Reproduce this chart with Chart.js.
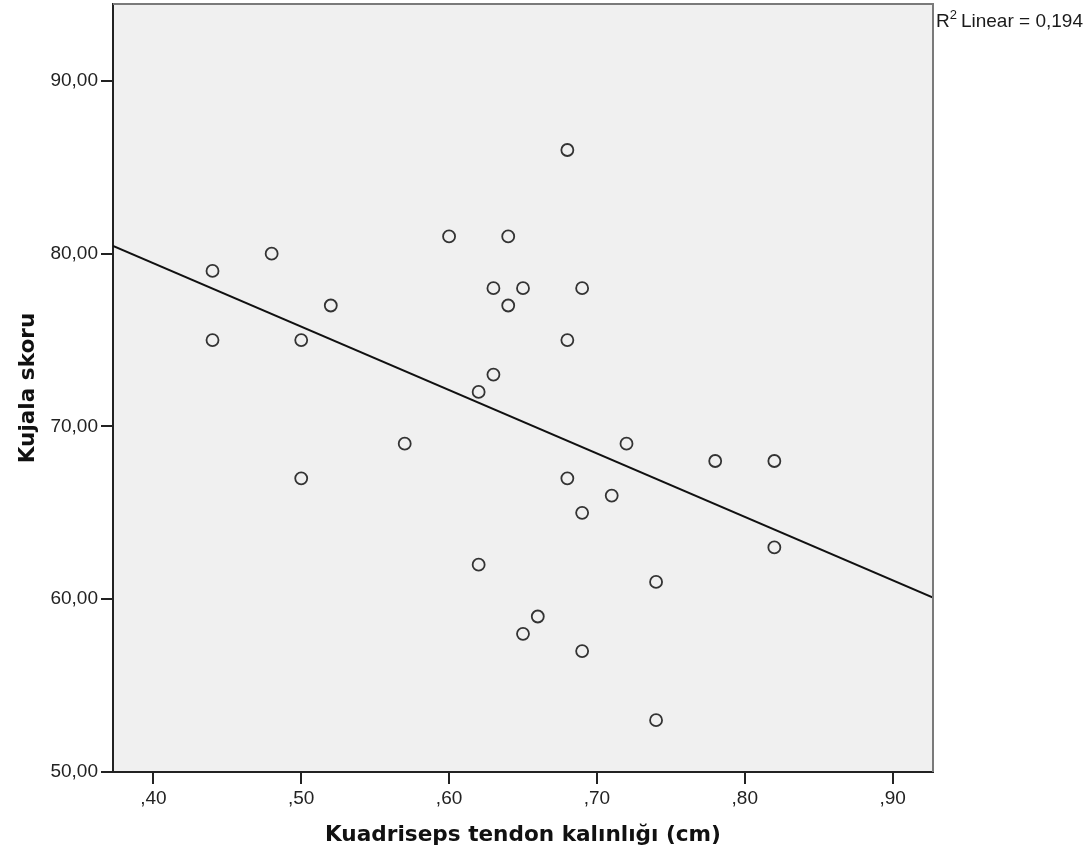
<!DOCTYPE html>
<html>
<head>
<meta charset="utf-8">
<script src="https://cdn.jsdelivr.net/npm/chart.js@4/dist/chart.umd.min.js"></script>
<style>
  html, body { margin: 0; padding: 0; background: #ffffff; }
  #wrap { width: 1091px; height: 861px; }
</style>
</head>
<body>
<div id="wrap"><canvas id="c" width="1091" height="861"></canvas></div>
<script>
// Data
const tendonThickness = [0.44, 0.44, 0.48, 0.50, 0.50, 0.52, 0.57, 0.60, 0.62, 0.62,
                         0.63, 0.63, 0.64, 0.64, 0.65, 0.65, 0.66, 0.68, 0.68, 0.68,
                         0.69, 0.69, 0.69, 0.71, 0.72, 0.74, 0.74, 0.78, 0.82, 0.82];
const kujalaScore = [79, 75, 80, 75, 67, 77, 69, 81, 72, 62,
                     78, 73, 81, 77, 78, 58, 59, 86, 75, 67,
                     78, 65, 57, 66, 69, 61, 53, 68, 68, 63];
const fitLineX = [0.3727, 0.9273];
const fitLineY = [80.45, 60.10];
const xTickValues = [0.40, 0.50, 0.60, 0.70, 0.80, 0.90];
const yTickValues = [50, 60, 70, 80, 90];
const xTitle = 'Kuadriseps tendon kalınlığı (cm)';
const yTitle = 'Kujala skoru';
const r2Label = '0,194';

const points = tendonThickness.map((x, i) => ({ x: x, y: kujalaScore[i] }));
const fitPoints = fitLineX.map((x, i) => ({ x: x, y: fitLineY[i] }));

const fmtX = v => ',' + Math.round(v * 100).toString().padStart(2, '0');
const fmtY = v => v.toFixed(2).replace('.', ',');

const framePlugin = {
  id: 'frame',
  beforeDraw(chart) {
    const { ctx, chartArea: a } = chart;
    ctx.save();
    ctx.fillStyle = '#f0f0f0';
    ctx.fillRect(a.left, a.top, a.right - a.left, a.bottom - a.top);
    ctx.restore();
  },
  afterDraw(chart) {
    const { ctx, chartArea: a } = chart;
    ctx.save();
    ctx.strokeStyle = '#7a7a7a';
    ctx.lineWidth = 2;
    ctx.beginPath();
    ctx.moveTo(a.left, a.top);
    ctx.lineTo(a.right, a.top);
    ctx.lineTo(a.right, a.bottom);
    ctx.stroke();
    // R² label
    ctx.fillStyle = '#1a1a1a';
    ctx.textBaseline = 'alphabetic';
    ctx.textAlign = 'left';
    let x = a.right + 3;
    const base = 27;
    ctx.font = '19px "Liberation Sans", Arial, sans-serif';
    ctx.fillText('R', x, base);
    x += ctx.measureText('R').width;
    ctx.font = '13px "Liberation Sans", Arial, sans-serif';
    ctx.fillText('2', x, base - 8);
    x += ctx.measureText('2').width + 4;
    ctx.font = '19px "Liberation Sans", Arial, sans-serif';
    ctx.fillText('Linear = ' + r2Label, x, base);
    ctx.restore();
  }
};

new Chart(document.getElementById('c'), {
  type: 'scatter',
  data: {
    datasets: [
      {
        type: 'line',
        data: fitPoints,
        borderColor: '#111111',
        borderWidth: 2,
        pointRadius: 0,
        fill: false,
        order: 1
      },
      {
        data: points,
        pointStyle: 'circle',
        pointRadius: 6,
        pointBorderWidth: 1.8,
        pointBorderColor: '#333333',
        pointBackgroundColor: 'rgba(0,0,0,0)',
        order: 0
      }
    ]
  },
  options: {
    responsive: false,
    animation: false,
    devicePixelRatio: 1,
    layout: { autoPadding: false, padding: { left: 0, top: 4, right: 158, bottom: 0 } },
    plugins: { legend: { display: false }, tooltip: { enabled: false } },
    scales: {
      x: {
        type: 'linear',
        min: 0.3727,
        max: 0.9273,
        afterBuildTicks(scale) { scale.ticks = xTickValues.map(v => ({ value: v })); },
        afterFit(scale) {
          scale.height = 861 - 772;
          scale.paddingLeft = 0; scale.paddingRight = 0;
        },
        ticks: {
          callback: v => fmtX(v),
          color: '#222222',
          padding: 3,
          maxRotation: 0,
          autoSkip: false,
          font: { family: '"Liberation Sans", Arial, sans-serif', size: 19 }
        },
        grid: { display: true, drawOnChartArea: false, drawTicks: true, tickLength: 12, color: '#222222', lineWidth: 2 },
        border: { display: true, color: '#222222', width: 2 },
        title: {
          display: true,
          text: xTitle,
          color: '#111111',
          padding: { top: 13, bottom: 13 },
          font: { family: '"DejaVu Sans", sans-serif', size: 21.6, weight: 'bold' }
        }
      },
      y: {
        type: 'linear',
        min: 50,
        max: 94.45,
        afterBuildTicks(scale) { scale.ticks = yTickValues.map(v => ({ value: v })); },
        afterFit(scale) {
          scale.width = 113;
          scale.paddingTop = 0; scale.paddingBottom = 0;
        },
        ticks: {
          callback: v => fmtY(v),
          color: '#222222',
          padding: 3,
          autoSkip: false,
          font: { family: '"Liberation Sans", Arial, sans-serif', size: 19 }
        },
        grid: { display: true, drawOnChartArea: false, drawTicks: true, tickLength: 12, color: '#222222', lineWidth: 2 },
        border: { display: true, color: '#222222', width: 2 },
        title: {
          display: true,
          text: yTitle,
          color: '#111111',
          padding: { top: 15, bottom: 15 },
          font: { family: '"DejaVu Sans", sans-serif', size: 21.6, weight: 'bold' }
        }
      }
    }
  },
  plugins: [framePlugin]
});
</script>
</body>
</html>
